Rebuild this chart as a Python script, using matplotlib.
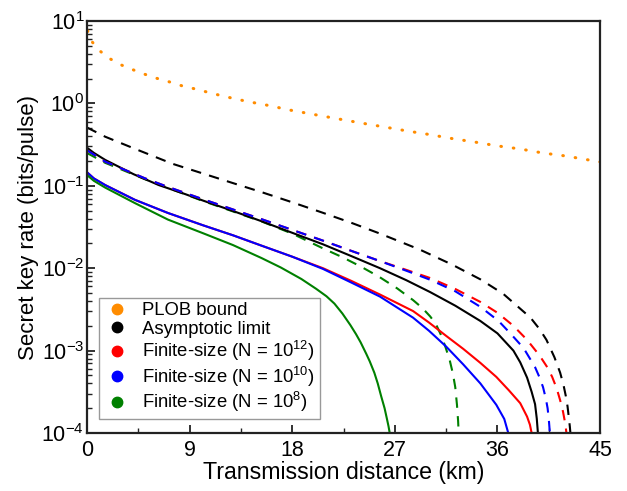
import numpy as np
import matplotlib
matplotlib.use("Agg")
import matplotlib.pyplot as plt
from matplotlib.lines import Line2D
from matplotlib.ticker import MultipleLocator, LogLocator

plt.rcParams['font.family'] = ['Liberation Sans', 'DejaVu Sans']
plt.rcParams['mathtext.fontset'] = 'custom'
plt.rcParams['mathtext.rm'] = 'Liberation Sans'
plt.rcParams['mathtext.it'] = 'Liberation Sans:italic'

# PLOB bound
d_plob = [0.05, 0.44, 1.1, 2.0, 3.0, 4.1, 5.1, 6.1, 7.2, 8.3, 9.3, 10.3, 12, 14, 16, 17.8,
          20, 22, 24, 26, 28, 30, 32, 34, 36, 38, 40, 42, 45]
plob = [7.6, 5.6, 4.36, 3.49, 2.93, 2.54, 2.25, 2.02, 1.83, 1.64, 1.52, 1.40, 1.22, 1.06,
        0.94, 0.83, 0.73, 0.65, 0.58, 0.52, 0.465, 0.42, 0.375, 0.34, 0.305, 0.28, 0.25,
        0.23, 0.195]

# asymptotic limit (solid / dashed)
d_k_sol = [0, 0.6, 1.6, 4.1, 6.3, 8.6, 10.2, 12.8, 15.3, 18.0, 20.7, 23.2, 25.7, 28.0, 30.1,
           32.3, 34.5, 36.0, 37.4, 38.0, 38.6, 39.0, 39.3, 39.45, 39.55]
k_sol = [0.29, 0.251, 0.206, 0.138, 0.102, 0.0794, 0.066, 0.0495, 0.0372, 0.0269, 0.0195,
         0.014, 0.0100, 0.00716, 0.00513, 0.00351, 0.00229, 0.00162, 0.0010, 7.2e-4, 4.7e-4,
         3.16e-4, 2.24e-4, 1.5e-4, 1e-4]
d_k_das = [0, 1.6, 4.1, 7.5, 10.1, 12.7, 15.3, 18.0, 20.7, 23.2, 25.7, 29.2, 32.0, 34.5,
           36.5, 38.9, 39.7, 40.3, 41.0, 41.5, 41.8, 42.0, 42.15, 42.25, 42.35, 42.4]
k_das = [0.51, 0.394, 0.285, 0.185, 0.142, 0.109, 0.0839, 0.0631, 0.047, 0.0355, 0.0263,
         0.0168, 0.0111, 0.00733, 0.0049, 0.00251, 0.00182, 0.00135, 8.3e-4, 5.4e-4, 3.8e-4,
         2.8e-4, 2.1e-4, 1.6e-4, 1.2e-4, 1e-4]

# N = 1e12
d_r_sol = [0, 0.6, 1.6, 4.2, 7.1, 10.2, 12.8, 15.3, 18.0, 20.7, 23.2, 25.7, 28.6, 30.0, 31.5,
           33.0, 34.5, 35.9, 37.0, 38.0, 38.6, 38.85, 39.0]
r_sol = [0.146, 0.123, 0.102, 0.0676, 0.0468, 0.0331, 0.0251, 0.0188, 0.0138, 0.0100, 0.0070,
         0.00479, 0.00302, 0.00219, 0.00151, 0.00105, 7.1e-4, 4.8e-4, 3.3e-4, 2.3e-4, 1.58e-4,
         1.26e-4, 1e-4]
d_r_das = [0, 1.6, 5.1, 7.0, 10.1, 15.3, 20.7, 23.2, 25.7, 28.0, 30.1, 32.3, 34.5, 36.0, 37.4,
           38.6, 39.7, 40.4, 40.8, 41.2, 41.5, 41.75, 41.9, 42.0, 42.05]
r_das = [0.27, 0.196, 0.123, 0.098, 0.0692, 0.0394, 0.0216, 0.0162, 0.0122, 0.00955, 0.0076,
         0.0056, 0.0039, 0.00288, 0.0020, 0.00135, 8.7e-4, 6.2e-4, 4.8e-4, 3.47e-4, 2.5e-4,
         1.82e-4, 1.41e-4, 1.15e-4, 1e-4]

# N = 1e10
d_b_sol = [0, 0.6, 1.6, 4.2, 7.1, 10.2, 12.8, 15.3, 18.0, 20.7, 23.2, 25.7, 28.6, 30.0, 31.5,
           33.0, 34.5, 35.9, 36.6, 36.95]
b_sol = [0.146, 0.123, 0.102, 0.0676, 0.0468, 0.0331, 0.0251, 0.0188, 0.0138, 0.0098, 0.00668,
         0.00452, 0.00251, 0.00174, 0.00112, 6.8e-4, 4.0e-4, 2.2e-4, 1.48e-4, 1e-4]
d_b_das = [0, 1.6, 5.1, 7.0, 10.1, 15.3, 20.7, 23.2, 25.7, 28.0, 30.1, 32.3, 34.5, 36.1, 37.2,
           38.3, 39.3, 39.7, 40.0, 40.25, 40.4, 40.5, 40.6]
b_das = [0.27, 0.196, 0.123, 0.098, 0.0692, 0.0394, 0.0216, 0.0162, 0.0122, 0.00933, 0.00724,
         0.00525, 0.0034, 0.00229, 0.00158, 0.00107, 6.3e-4, 4.7e-4, 3.6e-4, 2.6e-4, 2.0e-4,
         1.5e-4, 1e-4]

# N = 1e8
d_g_sol = [0, 0.6, 1.6, 4.2, 7.1, 10.2, 12.8, 15.3, 17.0, 18.8, 20.1, 21.0, 21.7, 22.4, 23.1,
           23.6, 24.0, 24.5, 24.8, 25.2, 25.5, 25.8, 26.1, 26.3, 26.45, 26.55]
g_sol = [0.135, 0.115, 0.095, 0.0617, 0.0389, 0.0265, 0.0191, 0.0133, 0.0102, 0.0074, 0.00562,
         0.00457, 0.00372, 0.00282, 0.00204, 0.00158, 0.00126, 9.1e-4, 7.4e-4, 5.4e-4, 4.0e-4,
         2.8e-4, 2.0e-4, 1.5e-4, 1.2e-4, 1e-4]
d_g_das = [0, 1.6, 5.1, 10.1, 15.3, 18.0, 20.7, 22.4, 24.0, 25.6, 27.2, 28.6, 29.4, 30.1, 30.6,
           31.0, 31.4, 31.8, 32.1, 32.3, 32.45, 32.55, 32.6]
g_das = [0.25, 0.19, 0.12, 0.066, 0.037, 0.0263, 0.0174, 0.0136, 0.0105, 0.0079, 0.0057,
         0.0041, 0.0033, 0.0026, 0.0021, 0.0016, 0.00115, 7.8e-4, 5.2e-4, 3.6e-4, 2.2e-4,
         1.4e-4, 1e-4]

labels = ["PLOB bound", "Asymptotic limit", r"Finite-size (N = 10$^{12}$)",
          r"Finite-size (N = 10$^{10}$)", r"Finite-size (N = 10$^{8}$)"]
colors = ["#FF8C00", "black", "#FF0000", "#0000FF", "#008000"]

fig = plt.figure(figsize=(6.27, 4.91), dpi=100)
ax = fig.add_axes([0.1388, 0.1181, 0.8182, 0.8391])

lw = 1.5
dash = (5, 4)
ax.plot(d_plob, plob, color=colors[0], lw=2.2, dashes=(0.2, 3.9), dash_capstyle='round')
ax.plot(d_g_das, g_das, color=colors[4], lw=lw, dashes=dash)
ax.plot(d_k_das, k_das, color=colors[1], lw=lw, dashes=dash)
ax.plot(d_k_sol, k_sol, color=colors[1], lw=lw)
ax.plot(d_r_das, r_das, color=colors[2], lw=lw, dashes=dash)
ax.plot(d_b_das, b_das, color=colors[3], lw=lw, dashes=dash)
ax.plot(d_r_sol, r_sol, color=colors[2], lw=lw)
ax.plot(d_b_sol, b_sol, color=colors[3], lw=lw)
ax.plot(d_g_sol, g_sol, color=colors[4], lw=lw)

ax.set_yscale('log')
ax.set_xlim(0, 45)
ax.set_ylim(1e-4, 10)
ax.xaxis.set_major_locator(MultipleLocator(9))
ax.xaxis.set_minor_locator(MultipleLocator(4.5))
ax.yaxis.set_major_locator(LogLocator(base=10, numticks=10))
ax.yaxis.set_minor_locator(LogLocator(base=10, subs=np.arange(2, 10), numticks=20))
ax.tick_params(which='both', direction='in', top=False, right=False, labelsize=15.5,
               color='#222222')
ax.tick_params(which='major', length=6, width=1.3)
ax.tick_params(which='minor', length=3.5, width=1.0)
ax.tick_params(axis='y', pad=2)
ax.tick_params(axis='x', pad=5)
for s in ax.spines.values():
    s.set_linewidth(1.6)
    s.set_color('#222222')

ax.set_xlabel("Transmission distance (km)", fontsize=16.7, labelpad=0)
ax.set_ylabel("Secret key rate (bits/pulse)", fontsize=16, labelpad=2)

handles = [Line2D([], [], ls='none', marker='o', markersize=7.5, color=c) for c in colors]
leg = ax.legend(handles, labels, loc='lower left', bbox_to_anchor=(0.023, 0.034),
                borderaxespad=0, fontsize=13.3, fancybox=False, framealpha=1,
                edgecolor='#999999', handletextpad=0.6, labelspacing=0.08,
                handlelength=1.5, borderpad=0.25)
leg.get_frame().set_linewidth(1.0)

fig.savefig("out.png", dpi=100)
